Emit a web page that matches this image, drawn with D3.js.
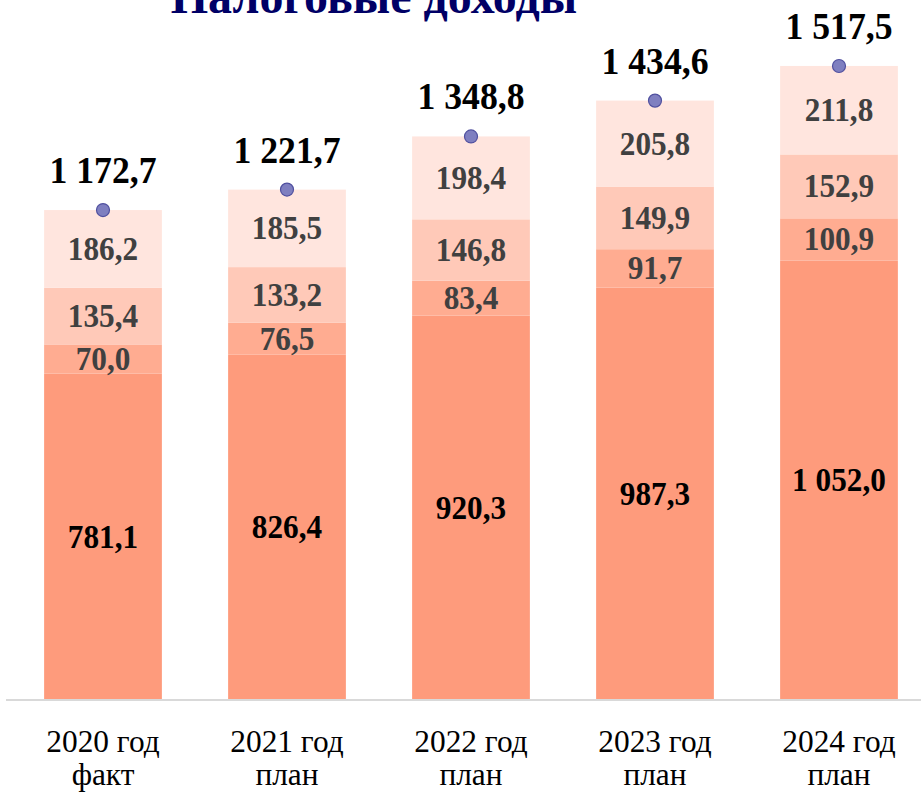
<!DOCTYPE html>
<html>
<head>
<meta charset="utf-8">
<script src="https://cdn.jsdelivr.net/npm/d3@7"></script>
<style>
  body { margin: 0; background: #fff; }
</style>
</head>
<body>
<svg id="chart" width="921" height="792"></svg>
<script>
// chart data
const years = ["2020 год", "2021 год", "2022 год", "2023 год", "2024 год"];
const yearNotes = ["факт", "план", "план", "план", "план"];
const series1 = [781.1, 826.4, 920.3, 987.3, 1052.0];
const series2 = [70.0, 76.5, 83.4, 91.7, 100.9];
const series3 = [135.4, 133.2, 146.8, 149.9, 152.9];
const series4 = [186.2, 185.5, 198.4, 205.8, 211.8];
const totals = [1172.7, 1221.7, 1348.8, 1434.6, 1517.5];

const seriesList = [series1, series2, series3, series4];
const colors = ["#FE9B7C", "#FFAC91", "#FFC9B8", "#FFE5DE"];
const labelColors = ["#000000", "#404040", "#404040", "#404040"];
const FONT = "Liberation Serif";

const svg = d3.select("#chart");
const baseY = 700;

const x = d3.scaleBand()
  .domain(years)
  .range([11, 931])
  .paddingInner(0.36)
  .paddingOuter(0.18);

const y = d3.scaleLinear()
  .domain([0, 1600])
  .range([baseY, baseY - 1600 * 0.4178]);

const ru = d3.formatLocale({ decimal: ",", thousands: " ", grouping: [3], currency: ["", ""] });
const fmt = ru.format(",.1f");

// stack the series
const rows = years.map((yr, i) => {
  const r = { year: yr };
  seriesList.forEach((s, k) => r["s" + k] = s[i]);
  return r;
});
const stack = d3.stack().keys(seriesList.map((s, k) => "s" + k));
const stacked = stack(rows);

const layers = svg.selectAll(".layer")
  .data(stacked)
  .enter()
  .append("g")
  .attr("class", "layer")
  .attr("fill", (d, k) => colors[k]);

layers.selectAll("rect")
  .data(d => d)
  .enter()
  .append("rect")
  .attr("x", d => x(d.data.year))
  .attr("width", x.bandwidth())
  .attr("y", d => y(d[1]))
  .attr("height", d => y(d[0]) - y(d[1]));

// segment labels
stacked.forEach((layer, k) => {
  svg.selectAll(".lbl" + k)
    .data(layer)
    .enter()
    .append("text")
    .attr("class", "lbl" + k)
    .attr("transform", d => "translate(" + (x(d.data.year) + x.bandwidth() / 2) + "," + ((y(d[0]) + y(d[1])) / 2 + 11) + ") scale(0.92,1)")
    .attr("text-anchor", "middle")
    .attr("font-family", FONT)
    .attr("font-size", 34)
    .attr("font-weight", "bold")
    .attr("fill", labelColors[k])
    .text(d => fmt(d[1] - d[0]));
});

// axis line
svg.append("line")
  .attr("x1", 6).attr("x2", 921)
  .attr("y1", baseY).attr("y2", baseY)
  .attr("stroke", "#D9D9D9")
  .attr("stroke-width", 2);

// total markers
svg.selectAll(".dot")
  .data(totals)
  .enter()
  .append("circle")
  .attr("cx", (d, i) => x(years[i]) + x.bandwidth() / 2)
  .attr("cy", d => y(d))
  .attr("r", 6.5)
  .attr("fill", "#7F7FC0")
  .attr("stroke", "#50509F")
  .attr("stroke-width", 1.2);

svg.selectAll(".total")
  .data(totals)
  .enter()
  .append("text")
  .attr("class", "total")
  .attr("transform", (d, i) => "translate(" + (x(years[i]) + x.bandwidth() / 2) + "," + (y(d) - 27) + ") scale(0.94,1)")
  .attr("text-anchor", "middle")
  .attr("font-family", FONT)
  .attr("font-size", 38)
  .attr("font-weight", "bold")
  .attr("fill", "#000")
  .text(d => fmt(d));

// category labels
const cats = svg.selectAll(".cat")
  .data(years)
  .enter()
  .append("text")
  .attr("class", "cat")
  .attr("transform", d => "translate(" + (x(d) + x.bandwidth() / 2) + ",752) scale(0.98,1)")
  .attr("text-anchor", "middle")
  .attr("font-family", FONT)
  .attr("font-size", 32)
  .attr("fill", "#000");
cats.append("tspan").attr("x", 0).attr("y", 0).text(d => d);
cats.append("tspan").attr("x", 0).attr("y", 33).text((d, i) => yearNotes[i]);

// title (cut off at the top in the original)
svg.append("text")
  .attr("transform", "translate(374,13)")
  .attr("text-anchor", "middle")
  .attr("font-family", FONT)
  .attr("font-size", 48)
  .attr("font-weight", "bold")
  .attr("fill", "#000066")
  .text("Налоговые доходы");
</script>
</body>
</html>
